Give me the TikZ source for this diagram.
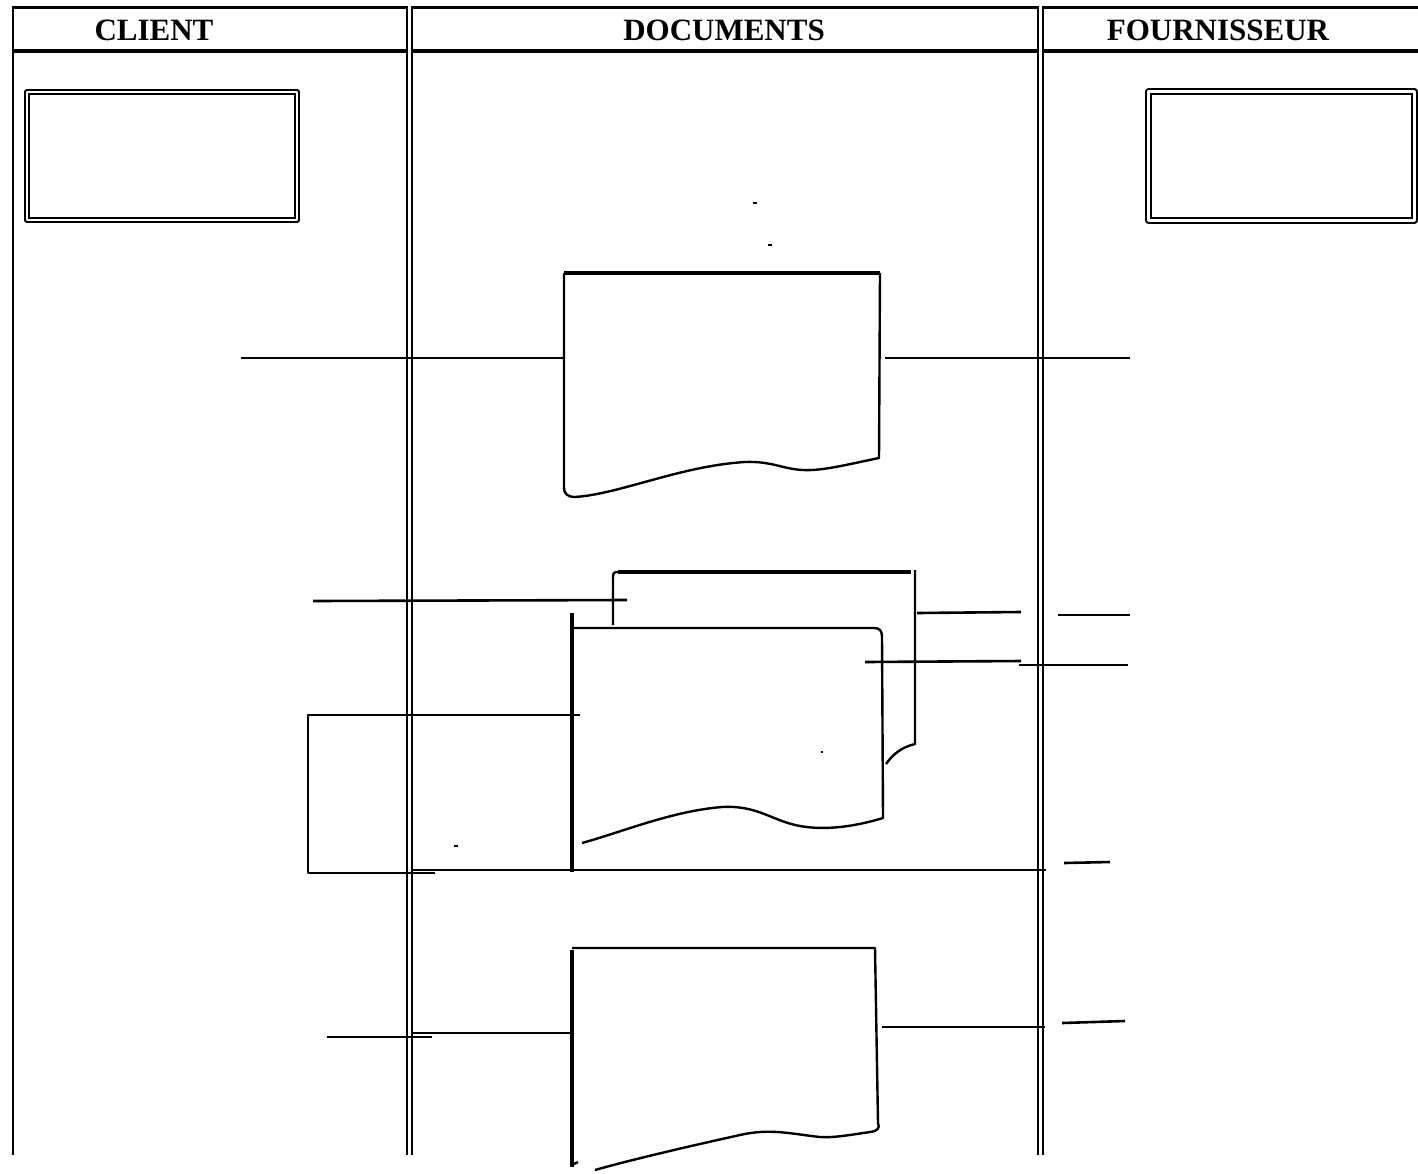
\documentclass[tikz,border=0pt]{standalone}
\usepackage{fontspec}
\setmainfont{Liberation Serif}
\begin{document}
\begin{tikzpicture}[x=1pt,y=-1pt,line join=round,
  frame/.style={line width=3pt},
  sepline/.style={double,line width=2pt,double distance=2.5pt},
  lane/.style={font=\bfseries\fontsize{31}{31}\selectfont,anchor=base,inner sep=0pt},
  actor/.style={draw,double,line width=2.1pt,double distance=2.3pt,minimum width=270pt,minimum height=128pt,inner sep=0pt},
  docline/.style={line width=2.4pt},
  doctop/.style={line width=3.4pt},
  link/.style={line width=2.6pt},
  speck/.style={fill=black,inner sep=0pt,minimum width=4pt,minimum height=2.5pt}]
\useasboundingbox (0,0) rectangle (1418,1173);

% swimlane frame
\draw[frame] (12,7) -- (1418,7);
\draw[frame,line width=3.6pt] (12,51) -- (1418,51);
\draw[line width=2.8pt] (13,6) -- (13,1155);
\draw[sepline] (409.5,6) -- (409.5,1155);
\draw[sepline] (1040.5,6) -- (1040.5,1155);

% lane titles
\node[lane] (hclient) at (154,40) {CLIENT};
\node[lane] (hdocs) at (724,40) {DOCUMENTS};
\node[lane] (hfour) at (1218,40) {FOURNISSEUR};

% actors
\node[actor] (client) at (162,156) {};
\node[actor,minimum width=266pt,minimum height=129pt] (four) at (1281.5,156) {};

% document 1
\coordinate (d1w) at (564,358);
\coordinate (d1e) at (885,358);
\draw[docline] (880,273) -- (879,458)
  .. controls (845,465) and (822,471) .. (803,470)
  .. controls (782,469) and (772,461) .. (745,462)
  .. controls (680,466) and (620,494) .. (575,497)
  .. controls (567,497) and (564,493) .. (564,488) -- (564,273);
\draw[doctop] (564,273) -- (880,273);
\coordinate (c1) at (241,358);
\coordinate (f1) at (1130,358);
\draw[link] (c1) -- (d1w);
\draw[link] (d1e) -- (f1);

% document 2 (two copies)
\draw[docline] (613,625) -- (613,577) .. controls (613,573) and (614,572) .. (618,572);
\draw[line width=4.2pt] (618,572) -- (911,572);
\draw[docline] (915,570) -- (915,744)
  .. controls (902,747) and (893,754) .. (886,764);
\draw[doctop] (572,613) -- (572,872);
\draw[docline] (572,628) -- (874,628) .. controls (880,628) and (882,631) .. (882,637)
  -- (883,818)
  .. controls (850,828) and (822,830) .. (800,826)
  .. controls (772,821) and (758,805) .. (722,807)
  .. controls (672,811) and (622,832) .. (582,843);
\coordinate (c2) at (313,601);
\coordinate (d2a) at (627,600);
\draw[link] (c2) -- (d2a);
\coordinate (d2b) at (917,613);
\coordinate (m2b) at (1021,612);
\draw[link] (d2b) -- (m2b);
\coordinate (f2b0) at (1058,615);
\coordinate (f2b) at (1130,615);
\draw[link] (f2b0) -- (f2b);
\coordinate (d2c) at (865,662);
\coordinate (m2c) at (1021,661);
\draw[link] (d2c) -- (m2c);
\coordinate (m2c1) at (1019,665);
\coordinate (f2c) at (1128,665);
\draw[link] (m2c1) -- (f2c);
% loop enclosing document 2
\coordinate (l1) at (580,715);
\coordinate (l2) at (308,715);
\coordinate (l3) at (308,873);
\coordinate (l4) at (435,873);
\draw[link] (l1) -- (l2) -- (l3) -- (l4);
\coordinate (b1) at (411,870);
\coordinate (b2) at (1046,870);
\draw[link] (b1) -- (b2);
\coordinate (f2d0) at (1064,863);
\coordinate (f2d) at (1110,862);
\draw[link] (f2d0) -- (f2d);

% document 3
\draw[docline] (572,948) -- (875,948) -- (878,1123)
  .. controls (880,1128) and (878,1131) .. (870,1132)
  .. controls (850,1135) and (832,1138) .. (820,1137)
  .. controls (792,1134) and (770,1128) .. (740,1135)
  .. controls (690,1146) and (630,1160) .. (595,1170);
\draw[doctop] (572,950) -- (572,1167);
\draw[docline] (572,1165) -- (578,1162);
\coordinate (c3) at (327,1037);
\coordinate (c3b) at (432,1037);
\draw[docline] (c3) -- (c3b);
\coordinate (m3) at (411,1033);
\coordinate (d3w) at (572,1033);
\draw[link] (m3) -- (d3w);
\coordinate (d3e) at (882,1027);
\coordinate (m3e) at (1045,1027);
\draw[docline] (d3e) -- (m3e);
\coordinate (f3a) at (1062,1023);
\coordinate (f3) at (1125,1021);
\draw[link] (f3a) -- (f3);

% small marks
\node[speck] (s1) at (755,203) {};
\node[speck] (s2) at (770,245) {};
\node[speck] (s3) at (456,846) {};
\node[speck,minimum width=2.5pt] (s4) at (822,752) {};
\end{tikzpicture}
\end{document}
